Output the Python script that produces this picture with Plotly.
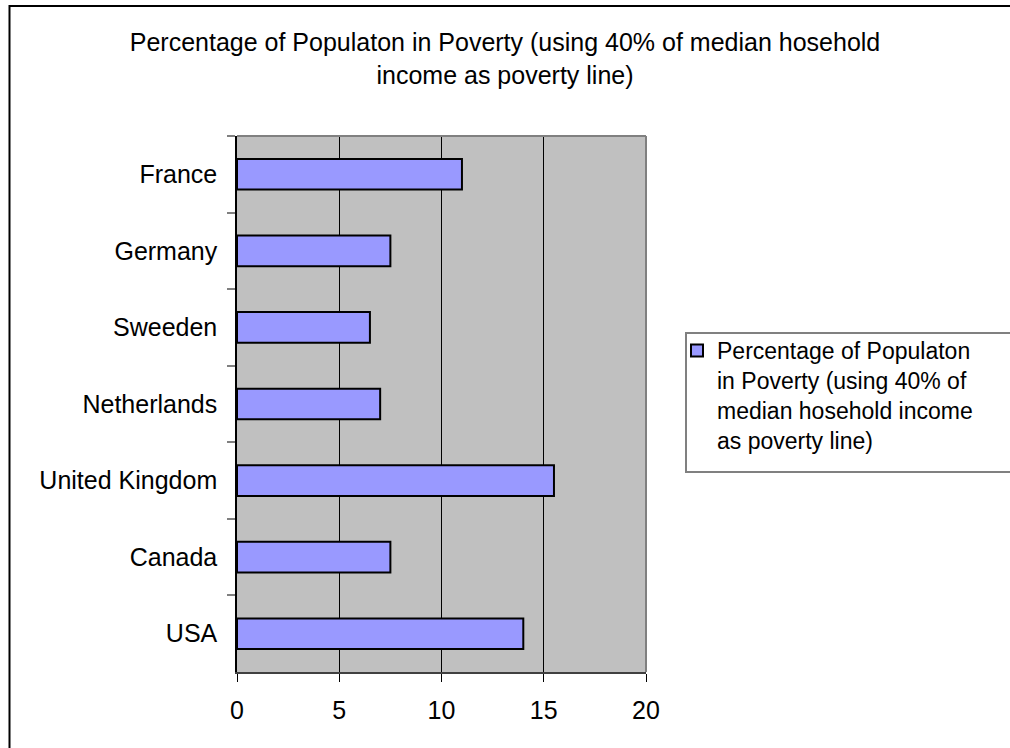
import plotly.graph_objects as go

categories = ["France", "Germany", "Sweeden", "Netherlands", "United Kingdom", "Canada", "USA"]
values = [11, 7.5, 6.5, 7, 15.5, 7.5, 14]
series_name = "Percentage of Populaton<br>in Poverty (using 40% of<br>median hosehold income<br>as poverty line)"
title_text = "Percentage of Populaton in Poverty (using 40% of median hosehold<br>income as poverty line)"
x_ticks = [0, 5, 10, 15, 20]

FONT = "Liberation Sans, Arial, sans-serif"

W, H = 1010, 748
L, R, T, B = 237, 364, 136, 76
pw, ph = W - L - R, H - T - B


def px_x(x):
    return (x - L) / pw


def px_y(y):
    return (H - B - y) / ph


fig = go.Figure()
fig.add_trace(go.Bar(
    y=categories, x=values, orientation="h", name=series_name,
    marker=dict(color="#9999FF", line=dict(color="#000000", width=2)),
    showlegend=True,
))

fig.update_layout(
    width=W, height=H,
    margin=dict(l=L, r=R, t=T, b=B),
    paper_bgcolor="white", plot_bgcolor="#C0C0C0",
    bargap=0.6,
    font=dict(family=FONT, size=25, color="black"),
    title=dict(text=title_text, x=0.5, xanchor="center", xref="container",
               y=1 - 51 / H, yanchor="top", yref="container",
               font=dict(family=FONT, size=25, color="black")),
    showlegend=True,
    legend=dict(x=px_x(677), xanchor="left", y=px_y(329), yanchor="top",
                xref="paper", yref="paper", valign="top",
                bgcolor="rgba(0,0,0,0)", borderwidth=0,
                font=dict(family=FONT, size=23, color="black")),
    xaxis=dict(range=[0, 20], tickvals=x_ticks, ticktext=[str(v) for v in x_ticks],
               showgrid=True, gridcolor="black", gridwidth=1, zeroline=False,
               showline=True, linecolor="#404040", linewidth=2,
               ticks="outside", ticklen=8, tickcolor="black", tickwidth=1,
               ticklabelstandoff=7, tickfont=dict(size=25)),
    yaxis=dict(type="category", autorange="reversed", tickson="boundaries",
               showgrid=False, zeroline=False,
               showline=True, linecolor="black", linewidth=1.5,
               ticks="outside", ticklen=8, tickcolor="#808080", tickwidth=2,
               ticklabelstandoff=13, tickfont=dict(size=25)),
    shapes=[
        # plot area top and right border
        dict(type="line", xref="paper", yref="paper", x0=0, x1=1, y0=1, y1=1,
             line=dict(color="#808080", width=2)),
        dict(type="line", xref="paper", yref="paper", x0=1, x1=1, y0=0, y1=1,
             line=dict(color="#808080", width=2)),
        # legend box
        dict(type="rect", xref="paper", yref="paper",
             x0=px_x(686), x1=px_x(1020), y0=px_y(472), y1=px_y(333),
             line=dict(color="#808080", width=2), fillcolor="rgba(0,0,0,0)"),
        # outer chart border
        dict(type="rect", xref="paper", yref="paper",
             x0=px_x(9.5), x1=px_x(1030), y0=px_y(770), y1=px_y(6),
             line=dict(color="black", width=2), fillcolor="rgba(0,0,0,0)"),
    ],
)

fig.write_html("out.html")
